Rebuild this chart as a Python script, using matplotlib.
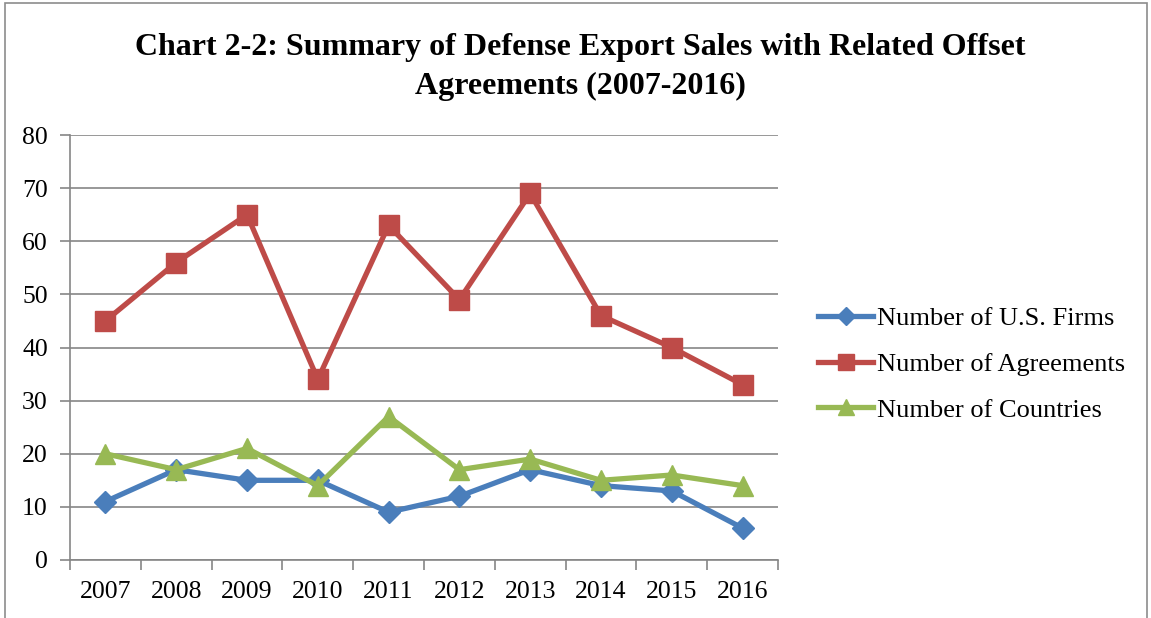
import matplotlib
matplotlib.use("Agg")
import matplotlib.pyplot as plt
from matplotlib.patches import Rectangle

years = ["2007", "2008", "2009", "2010", "2011", "2012", "2013", "2014", "2015", "2016"]
firms = [11, 17, 15, 15, 9, 12, 17, 14, 13, 6]
agreements = [45, 56, 65, 34, 63, 49, 69, 46, 40, 33]
countries = [20, 17, 21, 14, 27, 17, 19, 15, 16, 14]

plt.rcParams['font.family'] = ['Liberation Serif', 'DejaVu Serif']

W, H = 1151, 618
fig = plt.figure(figsize=(W / 100, H / 100), dpi=100)
fig.patches.append(Rectangle((4.5 / W, -0.1), (1147 - 4.5) / W, 1.1 - 3 / H, transform=fig.transFigure,
                             fill=False, edgecolor='#8c8c8c', linewidth=1.2))

ax = fig.add_axes([70 / W, 1 - 560 / H, (778 - 70) / W, (560 - 135) / H])
x = list(range(len(years)))
ax.plot(x, firms, color='#4A7EBB', lw=3.8, marker='D', ms=11, label='Number of U.S. Firms', zorder=3)
ax.plot(x, agreements, color='#BE4B48', lw=3.8, marker='s', ms=14, label='Number of Agreements', zorder=3)
ax.plot(x, countries, color='#98B954', lw=3.8, marker='^', ms=14, label='Number of Countries', zorder=4)

ax.set_xlim(-0.5, len(years) - 0.5)
ax.set_ylim(0, 80)
ax.set_yticks(range(0, 81, 10))
ax.set_xticks(x)
ax.set_xticklabels(years)
ax.set_xticks([i - 0.5 for i in range(len(years) + 1)], minor=True)
ax.tick_params(axis='x', which='major', length=0, labelsize=18.5, pad=15)
ax.tick_params(axis='x', which='minor', length=7, color='#868686', width=1.2)
ax.tick_params(axis='y', which='major', length=7, color='#868686', width=1.2, labelsize=18.5, pad=9)
ax.grid(axis='y', color='#868686', lw=1.2)
ax.set_axisbelow(True)
for s in ['top', 'right']:
    ax.spines[s].set_visible(False)
for s in ['left', 'bottom']:
    ax.spines[s].set_color('#868686')
    ax.spines[s].set_linewidth(1.2)

fig.text(580 / W, 1 - 48 / H, 'Chart 2-2: Summary of Defense Export Sales with Related Offset',
         ha='center', va='center', fontsize=23, fontweight='bold')
fig.text(580 / W, 1 - 86 / H, 'Agreements (2007-2016)',
         ha='center', va='center', fontsize=23, fontweight='bold')

leg = fig.legend(loc='center left', bbox_to_anchor=(818 / W, 1 - 364 / H), frameon=False,
                 fontsize=19, handlelength=2.1, labelspacing=0.85, handletextpad=0.15,
                 borderpad=0, borderaxespad=0, markerscale=0.8)

fig.savefig('out.png', dpi=100)
